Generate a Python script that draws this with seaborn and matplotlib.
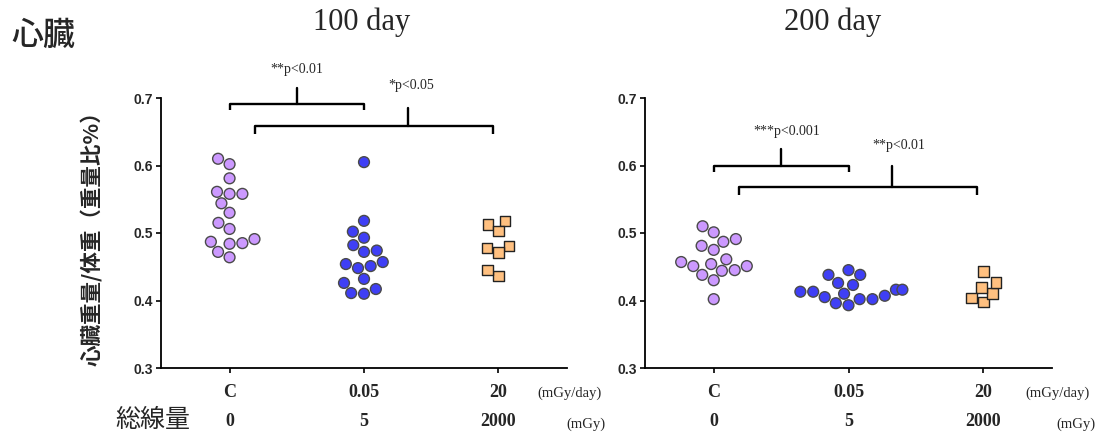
import matplotlib
matplotlib.use("Agg")
import matplotlib.pyplot as plt
import matplotlib.transforms as mtransforms
import seaborn as sns
import pandas as pd

# ---------------- data ----------------
categories = ["C", "0.05", "20"]
total_dose = ["0", "5", "2000"]
panel_titles = ["100 day", "200 day"]

d100_C = [0.610, 0.602, 0.581, 0.558, 0.561, 0.558, 0.544, 0.530,
          0.515, 0.506, 0.484, 0.487, 0.485, 0.491, 0.472, 0.464]
d100_005 = [0.605, 0.518, 0.502, 0.493, 0.482, 0.472, 0.474, 0.451,
            0.457, 0.448, 0.454, 0.432, 0.426, 0.417, 0.411, 0.410]
d100_20 = [0.513, 0.478, 0.436, 0.518, 0.503, 0.481, 0.471, 0.445]

d200_C = [0.510, 0.501, 0.491, 0.487, 0.481, 0.475, 0.457, 0.461,
          0.454, 0.451, 0.451, 0.445, 0.444, 0.438, 0.430, 0.402]
d200_005 = [0.445, 0.438, 0.438, 0.426, 0.423, 0.416, 0.413, 0.416,
            0.407, 0.405, 0.413, 0.410, 0.402, 0.402, 0.396, 0.393]
d200_20 = [0.398, 0.410, 0.443, 0.427, 0.419, 0.404]

sig_100 = ["**p<0.01", "*p<0.05"]
sig_200 = ["***p<0.001", "**p<0.01"]

# ---------------- style ----------------
sns.set_theme(style="white")
plt.rcParams["font.family"] = ["Liberation Serif", "Noto Sans CJK JP", "DejaVu Sans"]
CJK = ["Noto Sans CJK JP", "DejaVu Sans"]
SERIF = ["Liberation Serif", "DejaVu Serif"]
SANS = ["Liberation Sans", "DejaVu Sans"]

palette = {"C": "#CC99FF", "0.05": "#3F3FF5", "20": "#FFC080"}

W, H = 1100, 434
fig = plt.figure(figsize=(11, 4.34), dpi=100)
ax1 = fig.add_axes([161 / W, 66 / H, 406 / W, 270 / H])
ax2 = fig.add_axes([645 / W, 66 / H, 407 / W, 270 / H])


def make_df(c, m, h):
    return pd.DataFrame({
        "group": ["C"] * len(c) + ["0.05"] * len(m) + ["20"] * len(h),
        "value": list(c) + list(m) + list(h),
    })


def draw_panel(ax, df, sigs, brackets):
    circ = df[df["group"] != "20"]
    sq = df[df["group"] == "20"]
    sns.swarmplot(data=circ, x="group", y="value", hue="group", order=categories,
                  palette=palette, size=7.8, marker="o", edgecolor="#4a4a4a",
                  linewidth=1.0, legend=False, ax=ax)
    sns.swarmplot(data=sq, x="group", y="value", hue="group", order=categories,
                  palette=palette, size=7.6, marker="s", edgecolor="#222222",
                  linewidth=1.0, legend=False, ax=ax)
    ax.set_xlim(-0.51, 2.51)
    ax.set_ylim(0.3, 0.7)
    ax.set_yticks([0.3, 0.4, 0.5, 0.6, 0.7])
    ax.set_yticklabels(["0.3", "0.4", "0.5", "0.6", "0.7"],
                       fontfamily=SANS, fontweight="bold", fontsize=10)
    ax.set_xticks([0, 1, 2])
    ax.set_xticklabels(categories, fontfamily=SERIF, fontweight="bold", fontsize=13)
    ax.set_xlabel("")
    ax.set_ylabel("")
    for s in ["top", "right"]:
        ax.spines[s].set_visible(False)
    for s in ["left", "bottom"]:
        ax.spines[s].set_color("black")
        ax.spines[s].set_linewidth(1.3)
    ax.tick_params(axis="both", direction="out", length=3.5, width=1.2,
                   color="black", left=True, bottom=True)
    ax.tick_params(axis="x", pad=8)
    ax.tick_params(axis="y", pad=2)
    ax.set_facecolor("white")

    # significance brackets
    for (x1, x2, yb, drop, sx, stem, ty, tx), lab in zip(brackets, sigs):
        ax.plot([x1, x1, x2, x2], [yb - drop, yb, yb, yb - drop], color="black",
                lw=1.7, clip_on=False, solid_joinstyle="round", solid_capstyle="butt")
        ax.plot([sx, sx], [yb, yb + stem], color="black", lw=1.7, clip_on=False)
        ax.text(tx, ty, lab, ha="center", va="center", fontsize=10,
                fontfamily=SERIF, clip_on=False)

    # second row: total dose
    tr = mtransforms.blended_transform_factory(ax.transData, fig.transFigure)
    for i, t in enumerate(total_dose):
        ax.text(i, 1 - 421 / H, t, transform=tr, ha="center", va="center",
                fontsize=13, fontweight="bold", fontfamily=SERIF)


df100 = make_df(d100_C, d100_005, d100_20)
df200 = make_df(d200_C, d200_005, d200_20)

br100 = [(0.0, 1.0, 0.691, 0.009, 0.50, 0.024, 0.742, 0.50),
         (0.19, 1.96, 0.658, 0.011, 1.33, 0.027, 0.719, 1.35)]
br200 = [(0.0, 1.0, 0.599, 0.008, 0.50, 0.025, 0.650, 0.54),
         (0.185, 1.95, 0.568, 0.012, 1.32, 0.031, 0.630, 1.37)]

draw_panel(ax1, df100, sig_100, br100)
draw_panel(ax2, df200, sig_200, br200)

# titles and labels
fig.text(362 / W, 1 - 22 / H, panel_titles[0], ha="center", va="center",
         fontsize=22, fontfamily=SERIF)
fig.text(833 / W, 1 - 22 / H, panel_titles[1], ha="center", va="center",
         fontsize=22, fontfamily=SERIF)
fig.text(11 / W, 1 - 36 / H, "心臓", ha="left", va="center", fontsize=23,
         fontfamily=CJK, fontweight="medium")
fig.text(92 / W, 1 - 233 / H, "心臓重量/体重（重量比%）", rotation=90,
         ha="center", va="center", fontsize=15.5, fontweight="bold", fontfamily=CJK)
fig.text(153 / W, 1 - 420 / H, "総線量", ha="center", va="center", fontsize=18,
         fontfamily=CJK)

for cx_day, cx_tot in [(570, 586), (1058, 1076)]:
    fig.text(cx_day / W, 1 - 393 / H, "(mGy/day)", ha="center", va="center",
             fontsize=10.5, fontfamily=SERIF)
    fig.text(cx_tot / W, 1 - 424 / H, "(mGy)", ha="center", va="center",
             fontsize=10.5, fontfamily=SERIF)

fig.savefig("out.png", dpi=100, facecolor="white")
